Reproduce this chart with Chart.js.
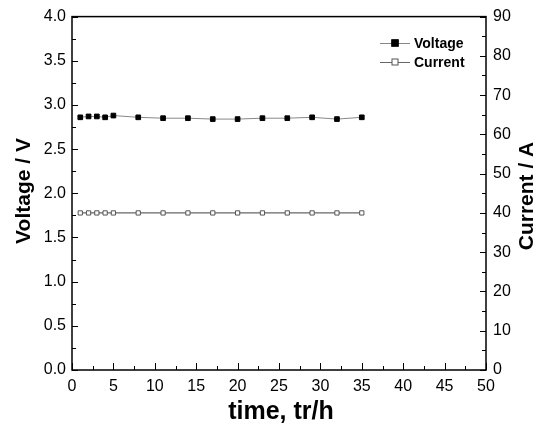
<!DOCTYPE html>
<html>
<head>
<meta charset="utf-8">
<script src="https://cdn.jsdelivr.net/npm/chart.js@4.4.1/dist/chart.umd.min.js"></script>
<style>
html,body{margin:0;padding:0;background:#fff;}
#wrap{width:539px;height:432px;position:relative;}
</style>
</head>
<body>
<div id="wrap"><canvas id="c" width="539" height="432"></canvas></div>
<script>
const timeHours = [1, 2, 3, 4, 5, 8, 11, 14, 17, 20, 23, 26, 29, 32, 35];
const voltageV = [2.86, 2.87, 2.87, 2.86, 2.88, 2.86, 2.85, 2.85, 2.84, 2.84, 2.85, 2.85, 2.86, 2.84, 2.86];
const currentA = [40, 40, 40, 40, 40, 40, 40, 40, 40, 40, 40, 40, 40, 40, 40];
const seriesNames = ["Voltage", "Current"];
const axisTitles = { x: "time, tr/h", y: "Voltage / V", y1: "Current / A" };

const FONT = '"Liberation Sans", Arial, Helvetica, sans-serif';

const pts = (xs, ys) => xs.map((x, i) => ({ x: x, y: ys[i] }));

const decorPlugin = {
  id: 'decor',
  afterDraw(chart) {
    const ctx = chart.ctx;
    const a = chart.chartArea;
    const sx = chart.scales.x, sy = chart.scales.y, sy1 = chart.scales.y1;
    ctx.save();
    // frame
    ctx.strokeStyle = '#000';
    ctx.lineWidth = 1.5;
    ctx.strokeRect(a.left, a.top, a.right - a.left, a.bottom - a.top);
    // ticks (inward)
    ctx.lineWidth = 1;
    ctx.beginPath();
    for (let v = 0; v <= 4.0001; v += 0.25) {
      const p = Math.round(sy.getPixelForValue(v)) + 0.5;
      const major = Math.abs(v * 2 - Math.round(v * 2)) < 1e-6;
      const len = major ? 6 : 4;
      ctx.moveTo(a.left, p); ctx.lineTo(a.left + len, p);
    }
    for (let v = 0; v <= 90.0001; v += 5) {
      const p = Math.round(sy1.getPixelForValue(v)) + 0.5;
      const len = (v % 10 === 0) ? 6 : 4;
      ctx.moveTo(a.right, p); ctx.lineTo(a.right - len, p);
    }
    for (let v = 0; v <= 50.0001; v += 2.5) {
      const p = Math.round(sx.getPixelForValue(v)) + 0.5;
      const len = (Math.abs(v % 5) < 1e-6) ? 7 : 4;
      ctx.moveTo(p, a.bottom); ctx.lineTo(p, a.bottom - len);
    }
    ctx.stroke();

    // axis titles
    ctx.fillStyle = '#000';
    ctx.textAlign = 'center';
    ctx.textBaseline = 'middle';
    ctx.font = 'bold 21px ' + FONT;
    ctx.save();
    ctx.translate(24, 191);
    ctx.rotate(-Math.PI / 2);
    ctx.fillText(axisTitles.y, 0, 0);
    ctx.restore();
    ctx.save();
    ctx.translate(527, 196);
    ctx.rotate(-Math.PI / 2);
    ctx.fillText(axisTitles.y1, 0, 0);
    ctx.restore();
    ctx.font = 'bold 25px ' + FONT;
    ctx.fillText(axisTitles.x, 281, 412);

    // legend
    const rows = [
      { y: 43, name: seriesNames[0], ds: chart.data.datasets[0] },
      { y: 62, name: seriesNames[1], ds: chart.data.datasets[1] }
    ];
    rows.forEach(r => {
      ctx.strokeStyle = r.ds.borderColor;
      ctx.lineWidth = 1;
      ctx.beginPath();
      ctx.moveTo(380, r.y + 0.5); ctx.lineTo(410, r.y + 0.5);
      ctx.stroke();
      const s = r.ds.pointRadius * 2;
      ctx.fillStyle = r.ds.pointBackgroundColor;
      ctx.fillRect(395 - s / 2, r.y - s / 2, s, s);
      ctx.strokeStyle = r.ds.pointBorderColor;
      ctx.strokeRect(395 - s / 2, r.y - s / 2, s, s);
      ctx.fillStyle = '#000';
      ctx.textAlign = 'left';
      ctx.font = 'bold 14px ' + FONT;
      ctx.fillText(r.name, 414, r.y + 1);
    });
    ctx.restore();
  }
};

new Chart(document.getElementById('c'), {
  type: 'line',
  data: {
    datasets: [
      {
        label: seriesNames[0],
        data: pts(timeHours, voltageV),
        yAxisID: 'y',
        borderColor: '#888',
        borderWidth: 1,
        pointStyle: 'rect',
        pointRadius: 3.3,
        pointBackgroundColor: '#000',
        pointBorderColor: '#000',
        pointBorderWidth: 1,
        tension: 0
      },
      {
        label: seriesNames[1],
        data: pts(timeHours, currentA),
        yAxisID: 'y1',
        borderColor: '#666',
        borderWidth: 1.2,
        pointStyle: 'rect',
        pointRadius: 3,
        pointBackgroundColor: '#fff',
        pointBorderColor: '#555',
        pointBorderWidth: 1,
        tension: 0
      }
    ]
  },
  options: {
    responsive: false,
    animation: false,
    devicePixelRatio: 1,
    layout: { padding: { top: 15, left: 0, right: 0, bottom: 0 } },
    plugins: { legend: { display: false }, tooltip: { enabled: false } },
    scales: {
      x: {
        type: 'linear', min: 0, max: 50,
        grid: { display: false, drawTicks: false }, border: { display: false },
        ticks: { stepSize: 5, color: '#000', padding: 7, font: { family: FONT, size: 16 } },
        afterFit(s) { s.height = 62; }
      },
      y: {
        position: 'left', min: 0, max: 4,
        grid: { display: false, drawTicks: false }, border: { display: false },
        ticks: { stepSize: 0.5, color: '#000', padding: 6, font: { family: FONT, size: 16 },
          callback: v => Number(v).toFixed(1) },
        afterFit(s) { s.width = 72; }
      },
      y1: {
        position: 'right', min: 0, max: 90,
        grid: { display: false, drawTicks: false }, border: { display: false },
        ticks: { stepSize: 10, color: '#000', padding: 7, font: { family: FONT, size: 16 } },
        afterFit(s) { s.width = 53; }
      }
    }
  },
  plugins: [decorPlugin]
});
</script>
</body>
</html>
